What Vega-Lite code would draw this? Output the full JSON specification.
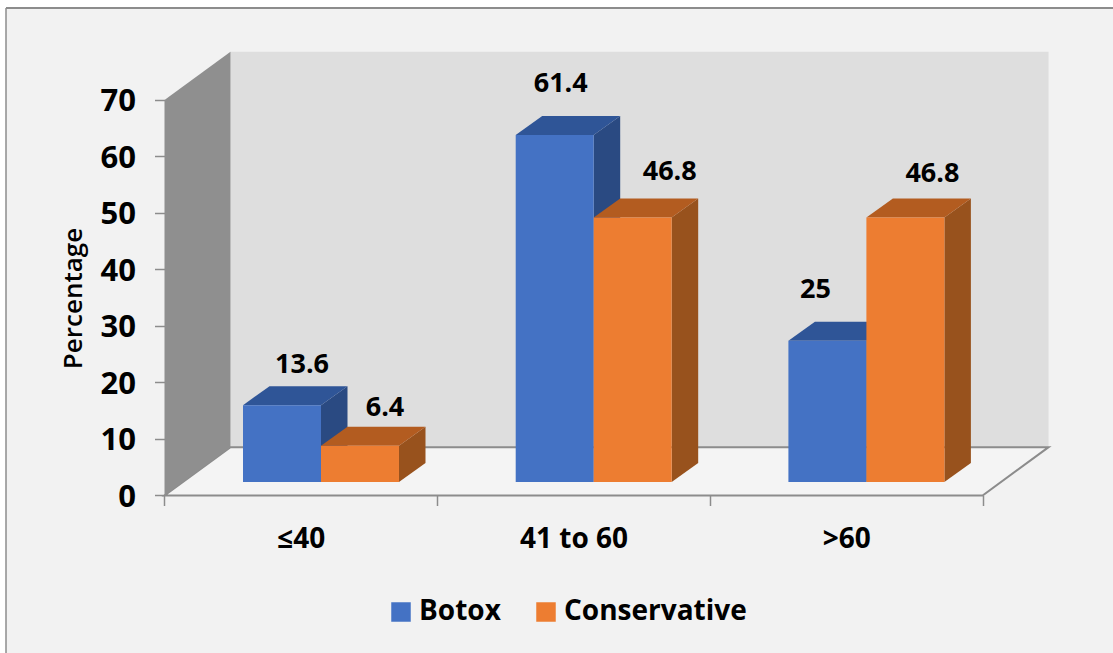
{
  "$schema": "https://vega.github.io/schema/vega-lite/v6.json",
  "width": 1107,
  "height": 645,
  "autosize": {"type": "none"},
  "padding": {"left": 6, "top": 8, "right": 0, "bottom": 0},
  "background": "#ffffff",
  "view": {"fill": "#f2f2f2", "stroke": null},
  "params": [
    {"name": "wallDx", "value": 0.2420},
    {"name": "wallDy", "value": 8.55},
    {"name": "barDx", "value": 0.0972},
    {"name": "barDy", "value": 3.36},
    {"name": "baseY", "value": 2.39},
    {"name": "barW", "value": 0.286},
    {"name": "barStart", "value": 0.2879}
  ],
  "data": {
    "values": [
      {"age": "≤40", "series": "Botox", "value": 13.6},
      {"age": "≤40", "series": "Conservative", "value": 6.4},
      {"age": "41 to 60", "series": "Botox", "value": 61.4},
      {"age": "41 to 60", "series": "Conservative", "value": 46.8},
      {"age": ">60", "series": "Botox", "value": 25},
      {"age": ">60", "series": "Conservative", "value": 46.8}
    ]
  },
  "transform": [
    {"calculate": "indexof(['≤40','41 to 60','>60'], datum.age) + barStart + (datum.series === 'Botox' ? 0 : barW)", "as": "left"},
    {"calculate": "datum.left + barW", "as": "right"},
    {"calculate": "datum.value + baseY", "as": "top"},
    {"calculate": "datum.age + '|' + datum.series", "as": "key"}
  ],
  "layer": [
    {
      "description": "Chart frame along the left edge; carries both axes",
      "data": {"values": [{"edge": "frame"}]},
      "mark": {"type": "rule", "stroke": "#8c8c8c", "strokeWidth": 1.5},
      "encoding": {
        "x": {
          "datum": -0.5812,
          "type": "quantitative",
          "scale": {"domain": [-0.5812, 3.4782], "nice": false, "zero": false},
          "axis": {
            "title": null,
            "orient": "bottom",
            "offset": -157.5,
            "domain": false,
            "grid": false,
            "values": [0, 0.5, 1, 1.5, 2, 2.5, 3],
            "labelExpr": "datum.value === 0.5 ? '≤40' : datum.value === 1.5 ? '41 to 60' : datum.value === 2.5 ? '>60' : ''",
            "labelFont": "Open Sans",
            "labelFontWeight": 700,
            "labelFontSize": 28,
            "labelColor": "#000000",
            "labelPadding": 20,
            "labelOverlap": false,
            "labelFlush": false,
            "tickSize": 10,
            "tickWidth": 1.5,
            "tickColor": {"condition": {"test": "datum.value % 1 !== 0", "value": "transparent"}, "value": "#8c8c8c"}
          }
        },
        "y": {
          "datum": -27.88,
          "type": "quantitative",
          "scale": {"domain": [-27.88, 86.28], "nice": false, "zero": false},
          "axis": {
            "title": "Percentage",
            "titleFont": "Open Sans",
            "titleFontWeight": 600,
            "titleFontSize": 26,
            "titleColor": "#000000",
            "titleY": 290,
            "titlePadding": 14,
            "orient": "left",
            "offset": -158.5,
            "domain": false,
            "grid": false,
            "values": [0, 10, 20, 30, 40, 50, 60, 70],
            "labelFont": "Open Sans",
            "labelFontWeight": 700,
            "labelFontSize": 31,
            "labelColor": "#000000",
            "labelPadding": 19,
            "labelOffset": 2,
            "tickSize": 10,
            "tickWidth": 1.5,
            "tickColor": "#8c8c8c"
          }
        },
        "y2": {"datum": 86.28}
      }
    },
    {
      "description": "Chart frame along the top edge",
      "data": {"values": [{"edge": "frame"}]},
      "mark": {"type": "rule", "stroke": "#8c8c8c", "strokeWidth": 2},
      "encoding": {
        "x": {"datum": -0.5812, "type": "quantitative"},
        "x2": {"datum": 3.4782},
        "y": {"datum": 86.28, "type": "quantitative"}
      }
    },
    {
      "description": "Back wall",
      "data": {"values": [{"low": 0, "high": 70, "first": 0, "last": 3}]},
      "transform": [
        {"calculate": "datum.first + wallDx", "as": "x0"},
        {"calculate": "datum.last + wallDx", "as": "x1"},
        {"calculate": "datum.low + wallDy", "as": "y0"},
        {"calculate": "datum.high + wallDy", "as": "y1"}
      ],
      "mark": {"type": "rect", "fill": "#dedede"},
      "encoding": {
        "x": {"field": "x0", "type": "quantitative"},
        "x2": {"field": "x1"},
        "y": {"field": "y0", "type": "quantitative"},
        "y2": {"field": "y1"}
      }
    },
    {
      "description": "Floor",
      "data": {"values": [{"low": 0, "first": 0, "last": 3}]},
      "transform": [
        {"calculate": "[0, 1]", "as": "d"},
        {"flatten": ["d"]},
        {"calculate": "datum.first + datum.d * wallDx", "as": "x0"},
        {"calculate": "datum.last + datum.d * wallDx", "as": "x1"},
        {"calculate": "datum.low + datum.d * wallDy", "as": "yy"}
      ],
      "mark": {"type": "area", "orient": "horizontal", "fill": "#f4f4f4", "stroke": "#8c8c8c", "strokeWidth": 2},
      "encoding": {
        "y": {"field": "yy", "type": "quantitative"},
        "x": {"field": "x0", "type": "quantitative"},
        "x2": {"field": "x1"}
      }
    },
    {
      "description": "Left wall",
      "data": {"values": [{"low": 0, "high": 70, "first": 0}]},
      "transform": [
        {"calculate": "[0, 1]", "as": "d"},
        {"flatten": ["d"]},
        {"calculate": "datum.first + datum.d * wallDx", "as": "xx"},
        {"calculate": "datum.low + datum.d * wallDy", "as": "y0"},
        {"calculate": "datum.high + datum.d * wallDy", "as": "y1"}
      ],
      "mark": {"type": "area", "orient": "vertical", "fill": "#8f8f8f"},
      "encoding": {
        "x": {"field": "xx", "type": "quantitative"},
        "y": {"field": "y0", "type": "quantitative"},
        "y2": {"field": "y1"}
      }
    },
    {
      "description": "Right-hand side face of each bar",
      "transform": [
        {"calculate": "[0, 1]", "as": "d"},
        {"flatten": ["d"]},
        {"calculate": "datum.right + datum.d * barDx", "as": "xx"},
        {"calculate": "baseY + datum.d * barDy", "as": "y0"},
        {"calculate": "datum.top + datum.d * barDy", "as": "y1"}
      ],
      "mark": {"type": "area", "orient": "vertical"},
      "encoding": {
        "x": {"field": "xx", "type": "quantitative"},
        "y": {"field": "y0", "type": "quantitative"},
        "y2": {"field": "y1"},
        "detail": {"field": "key"},
        "fill": {"condition": {"test": "datum.series === 'Botox'", "value": "#2a4a82"}, "value": "#98521d"}
      }
    },
    {
      "description": "Top face of each bar",
      "transform": [
        {"calculate": "[0, 1]", "as": "d"},
        {"flatten": ["d"]},
        {"calculate": "datum.left + datum.d * barDx", "as": "x0"},
        {"calculate": "datum.right + datum.d * barDx", "as": "x1"},
        {"calculate": "datum.top + datum.d * barDy", "as": "yy"}
      ],
      "mark": {"type": "area", "orient": "horizontal"},
      "encoding": {
        "y": {"field": "yy", "type": "quantitative"},
        "x": {"field": "x0", "type": "quantitative"},
        "x2": {"field": "x1"},
        "detail": {"field": "key"},
        "fill": {"condition": {"test": "datum.series === 'Botox'", "value": "#2f5597"}, "value": "#b35c20"}
      }
    },
    {
      "description": "Front face of each bar, with the legend",
      "transform": [{"calculate": "baseY", "as": "bottom"}],
      "mark": {"type": "rect"},
      "encoding": {
        "x": {"field": "left", "type": "quantitative"},
        "x2": {"field": "right"},
        "y": {"field": "bottom", "type": "quantitative"},
        "y2": {"field": "top"},
        "color": {
          "field": "series",
          "type": "nominal",
          "scale": {"domain": ["Botox", "Conservative"], "range": ["#4472c4", "#ed7d31"]},
          "legend": {
            "title": null,
            "orient": "none",
            "legendX": 381,
            "legendY": 590,
            "direction": "horizontal",
            "symbolType": "square",
            "symbolSize": 380,
            "symbolStrokeWidth": 0,
            "symbolOpacity": 1,
            "labelFont": "Open Sans",
            "labelFontWeight": 700,
            "labelFontSize": 28,
            "labelColor": "#000000",
            "labelLimit": 300,
            "labelOffset": 4,
            "columnPadding": 31
          }
        }
      }
    },
    {
      "description": "Value labels above the bars",
      "transform": [
        {"calculate": "({'≤40|Botox': 20, '≤40|Conservative': 25, '41 to 60|Botox': 6, '41 to 60|Conservative': 37, '>60|Botox': -12, '>60|Conservative': 27})[datum.key] / 272.7", "as": "shiftX"},
        {"calculate": "({'≤40|Botox': 40, '≤40|Conservative': 38, '41 to 60|Botox': 51, '41 to 60|Conservative': 46, '>60|Botox': 51, '>60|Conservative': 44})[datum.key] / 5.65", "as": "shiftY"},
        {"calculate": "(datum.left + datum.right) / 2 + datum.shiftX", "as": "labelX"},
        {"calculate": "datum.top + datum.shiftY", "as": "labelY"}
      ],
      "mark": {"type": "text", "font": "Open Sans", "fontWeight": 700, "fontSize": 27, "color": "#000000", "baseline": "middle", "align": "center"},
      "encoding": {
        "x": {"field": "labelX", "type": "quantitative"},
        "y": {"field": "labelY", "type": "quantitative"},
        "text": {"field": "value", "type": "nominal"}
      }
    }
  ]
}
